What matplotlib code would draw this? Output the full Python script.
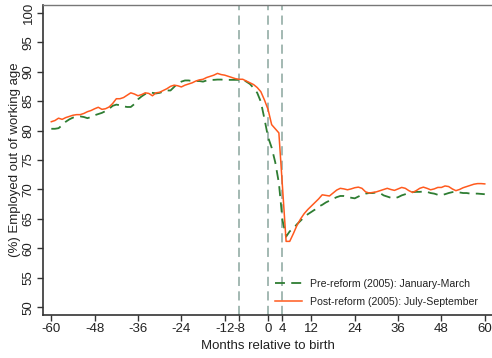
import numpy as np
import matplotlib
matplotlib.use("Agg")
import matplotlib.pyplot as plt

plt.rcParams['font.family'] = ['Liberation Sans', 'DejaVu Sans']

months = list(range(-60, 61))

pre_reform = [
    80.3, 80.3, 80.4, 80.9, 81.5, 81.9, 82.2, 82.3, 82.4, 82.3,   # -60..-51
    82.1, 82.3, 82.6, 82.8, 83.0, 83.3, 83.7, 84.2, 84.4, 84.3,   # -50..-41
    84.1, 84.0, 84.0, 84.5, 85.3, 85.8, 86.2, 86.5, 86.4, 86.3,   # -40..-31
    86.4, 86.6, 86.8, 86.8, 87.4, 88.0, 88.3, 88.5, 88.5, 88.4,   # -30..-21
    88.4, 88.4, 88.3, 88.5, 88.6, 88.6, 88.65, 88.65, 88.6, 88.6, # -20..-11
    88.6, 88.6, 88.6, 88.65, 88.3, 87.9, 87.2, 86.4, 84.9, 82.0,  # -10..-1
    78.9,                                                         # 0
    77.1, 74.6, 71.1, 64.8, 62.0, 62.9, 63.4, 64.1, 64.7, 65.3,   # 1..10
    65.8, 66.2, 66.6, 67.1, 67.4, 67.8, 68.1, 68.4, 68.7, 68.9,   # 11..20
    68.9, 68.8, 68.6, 68.5, 68.8, 69.1, 69.3, 69.4, 69.4, 69.5,   # 21..30
    69.4, 69.0, 68.8, 68.6, 68.5, 68.7, 69.0, 69.2, 69.4, 69.55,  # 31..40
    69.6, 69.6, 69.65, 69.6, 69.4, 69.3, 69.1, 69.05, 69.2, 69.4, # 41..50
    69.55, 69.6, 69.5, 69.4, 69.4, 69.3, 69.3, 69.3, 69.25, 69.2, # 51..60
]

post_reform = [
    81.5, 81.7, 82.1, 81.9, 82.2, 82.4, 82.6, 82.7, 82.7, 82.9,   # -60..-51
    83.2, 83.4, 83.7, 83.95, 83.6, 83.7, 84.0, 84.6, 85.4, 85.4,  # -50..-41
    85.6, 86.0, 86.4, 86.2, 85.9, 86.1, 86.4, 86.3, 85.9, 86.4,   # -40..-31
    86.5, 86.8, 87.1, 87.5, 87.7, 87.6, 87.4, 87.7, 87.9, 88.1,   # -30..-21
    88.4, 88.6, 88.7, 89.0, 89.2, 89.4, 89.7, 89.5, 89.4, 89.2,   # -20..-11
    89.0, 88.8, 88.7, 88.7, 88.4, 88.1, 87.8, 87.3, 86.6, 85.2,   # -10..-1
    83.6,                                                         # 0
    81.0, 80.3, 79.6, 70.4, 61.2, 61.2, 62.5, 63.9, 65.0, 65.9,   # 1..10
    66.6, 67.2, 67.8, 68.4, 69.1, 69.0, 68.9, 69.4, 69.9, 70.2,   # 11..20
    70.1, 69.95, 70.1, 70.3, 70.4, 70.2, 69.6, 69.4, 69.5, 69.6,  # 21..30
    69.8, 70.0, 70.2, 70.0, 69.85, 70.1, 70.35, 70.2, 69.8, 69.5, # 31..40
    69.8, 70.2, 70.4, 70.2, 69.95, 70.1, 70.35, 70.35, 70.6, 70.5,# 41..50
    70.1, 69.8, 70.0, 70.3, 70.5, 70.7, 70.9, 71.0, 71.0, 70.95,  # 51..60
]

event_months = [-8, 0, 4]
x_ticks = [-60, -48, -36, -24, -12, -8, 0, 4, 12, 24, 36, 48, 60]
y_ticks = [50, 55, 60, 65, 70, 75, 80, 85, 90, 95, 100]

fig = plt.figure(figsize=(4.92, 3.58), dpi=100)
ax = fig.add_axes([0.0874, 0.120, 0.9126, 0.866])

for m in event_months:
    ax.axvline(m, color='#8aa59e', lw=1.1, dashes=(6, 3.5), zorder=1)

ax.plot(months, pre_reform, color='#2e7d32', lw=1.3, dashes=(5.5, 3.5),
        label='Pre-reform (2005): January-March', zorder=3)
ax.plot(months, post_reform, color='#ff5a1e', lw=1.1,
        label='Post-reform (2005): July-September', zorder=4)

ax.set_xlim(-62.3, 62.0)
ax.set_ylim(48.7, 101.3)
ax.set_xticks(x_ticks)
ax.set_xticklabels([str(t) for t in x_ticks])
ax.set_yticks(y_ticks)
ax.set_yticklabels([str(t) for t in y_ticks], rotation=90, va='center')

ax.tick_params(axis='both', direction='out', length=4, width=1,
               colors='#333333', labelsize=9.5, labelcolor='#222222')
ax.tick_params(axis='x', pad=2)
ax.tick_params(axis='y', pad=2)

for side in ['left', 'bottom']:
    ax.spines[side].set_color('#333333')
    ax.spines[side].set_linewidth(1.2)
ax.spines['top'].set_color('#777777')
ax.spines['top'].set_linewidth(1.0)
ax.spines['right'].set_visible(False)

ax.set_xlabel('Months relative to birth', fontsize=9.5, color='#222222', labelpad=3)
ax.set_ylabel('(%) Employed out of working age', fontsize=9.5, color='#222222', labelpad=1.5)

leg = ax.legend(loc='lower right', bbox_to_anchor=(0.99, -0.005), frameon=False,
                fontsize=7.6, handlelength=2.6, handletextpad=0.75,
                labelspacing=0.75)
for t in leg.get_texts():
    t.set_color('#222222')

fig.savefig('out.png', dpi=100)
